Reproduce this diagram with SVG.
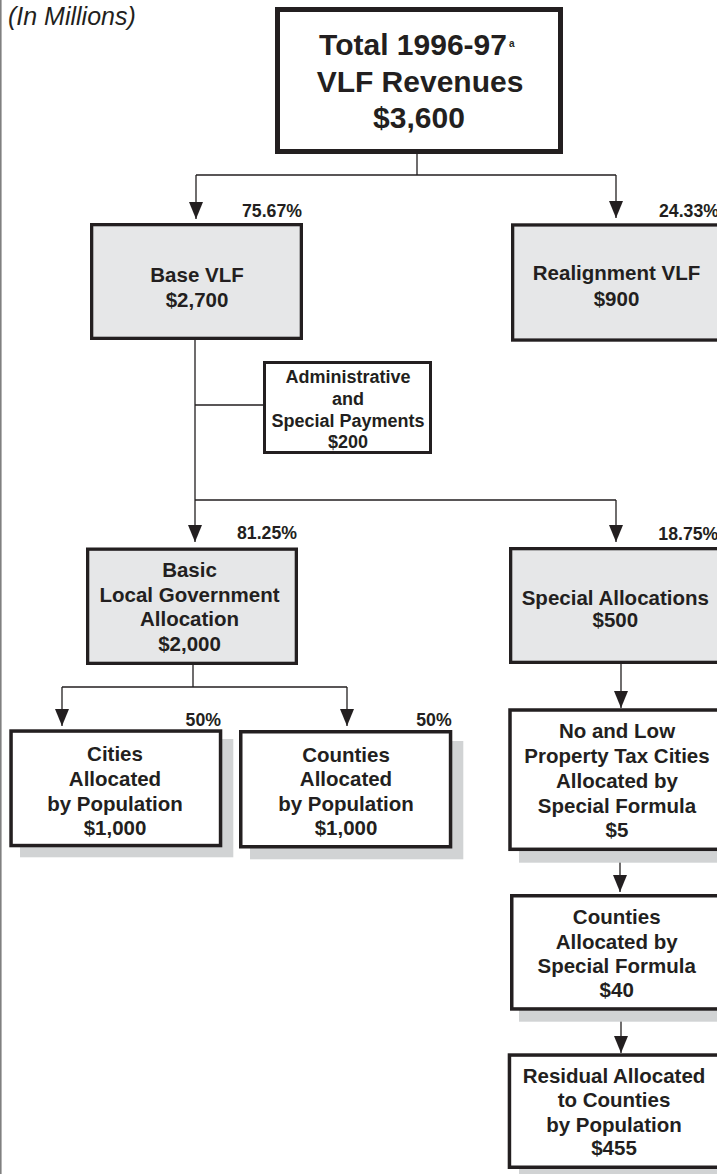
<svg xmlns="http://www.w3.org/2000/svg" width="717" height="1174" viewBox="0 0 717 1174">
<style>
  text { font-family: "Liberation Sans", Arial, Helvetica, sans-serif; fill: #231f20; }
  .b { font-weight: bold; font-size: 20.5px; text-anchor: middle; }
  .t { font-weight: bold; font-size: 30px; text-anchor: middle; }
  .s { font-weight: bold; font-size: 18px; text-anchor: middle; }
  .p { font-weight: bold; font-size: 17.7px; }
  .pe { text-anchor: end; }
  .box { fill: #ffffff; stroke: #231f20; }
  .gray { fill: #e6e7e8; stroke: #231f20; stroke-width: 3.3; }
  .white { fill: #ffffff; stroke: #231f20; stroke-width: 3.5; }
  .shadow { fill: #d1d3d4; stroke: none; }
  .conn { fill: none; stroke: #231f20; stroke-width: 1.3; }
  .arr { fill: none; stroke: #231f20; stroke-width: 1.3; marker-end: url(#ah); }
</style>
<defs>
  <marker id="ah" markerUnits="userSpaceOnUse" markerWidth="17" markerHeight="14" viewBox="0 0 17 14" refX="17" refY="7" orient="auto">
    <path d="M0,0 L17,7 L0,14 Z" fill="#231f20"/>
  </marker>
</defs>
<rect x="0" y="0" width="717" height="1174" fill="#ffffff"/>
<line x1="0.8" y1="0" x2="0.8" y2="1174" stroke="#808080" stroke-width="1.6"/>
<text x="8" y="25" style="font-size:25px;font-style:italic;">(In Millions)</text>

<g id="connectors">
  <path class="conn" d="M417,154 V175 M196,175 H616"/>
  <path class="arr" d="M196,175 V219"/>
  <path class="arr" d="M616,175 V218"/>
  <path class="conn" d="M195,340 V500 M195,405 H263 M195,500 H616"/>
  <path class="arr" d="M195,500 V542"/>
  <path class="arr" d="M616,500 V542"/>
  <path class="conn" d="M193,665 V687 M62,687 H347"/>
  <path class="arr" d="M62,687 V726"/>
  <path class="arr" d="M347,687 V726"/>
  <path class="arr" d="M621,664 V708"/>
  <path class="arr" d="M620,851 V892"/>
  <path class="arr" d="M621,1011 V1053"/>
</g>

<g id="total">
  <rect class="box" x="277.5" y="9.5" width="283" height="142" style="stroke-width:5"/>
  <text class="t" x="413" y="55">Total 1996-97</text>
  <text x="509" y="47" style="font-size:10px;font-weight:bold;">a</text>
  <text class="t" x="420" y="92">VLF Revenues</text>
  <text class="t" x="419" y="128">$3,600</text>
</g>

<g id="base-vlf">
  <rect class="gray" x="91.65" y="224.65" width="209.7" height="113.7"/>
  <text class="p pe" x="302" y="217">75.67%</text>
  <text class="b" x="197" y="282.3">Base VLF</text>
  <text class="b" x="197" y="306.7">$2,700</text>
</g>

<g id="realignment-vlf">
  <rect class="gray" x="512.65" y="224.95" width="206.7" height="115.1"/>
  <text class="p" x="659" y="217">24.33%</text>
  <text class="b" x="616.5" y="280">Realignment VLF</text>
  <text class="b" x="616.5" y="306">$900</text>
</g>

<g id="admin">
  <rect class="box" x="264.5" y="362.5" width="166" height="90" style="stroke-width:3"/>
  <text class="s" x="348" y="383.3">Administrative</text>
  <text class="s" x="348" y="405">and</text>
  <text class="s" x="348" y="426.7">Special Payments</text>
  <text class="s" x="348" y="447.7">$200</text>
</g>

<g id="basic">
  <rect class="gray" x="87.65" y="549.15" width="208.7" height="114.2"/>
  <text class="p pe" x="297" y="539">81.25%</text>
  <text class="b" x="189.5" y="576.7">Basic</text>
  <text class="b" x="189.5" y="602.3">Local Government</text>
  <text class="b" x="189.5" y="626">Allocation</text>
  <text class="b" x="189.5" y="650.7">$2,000</text>
</g>

<g id="special">
  <rect class="gray" x="510.65" y="548.65" width="209.7" height="113.7"/>
  <text class="p" x="658.3" y="539.5">18.75%</text>
  <text class="b" x="615.3" y="605">Special Allocations</text>
  <text class="b" x="615.3" y="627">$500</text>
</g>

<g id="cities">
  <rect class="shadow" x="20" y="739" width="213.3" height="118.3"/>
  <rect class="white" x="11.05" y="731.05" width="209.5" height="114.5"/>
  <text class="p pe" x="221" y="725.5">50%</text>
  <text class="b" x="115" y="761">Cities</text>
  <text class="b" x="115" y="786">Allocated</text>
  <text class="b" x="115" y="811">by Population</text>
  <text class="b" x="115" y="835">$1,000</text>
</g>

<g id="counties">
  <rect class="shadow" x="250" y="741" width="213.3" height="118.3"/>
  <rect class="white" x="240.75" y="731.75" width="209.8" height="115"/>
  <text class="p pe" x="451.7" y="725.5">50%</text>
  <text class="b" x="346" y="761.7">Counties</text>
  <text class="b" x="346" y="786">Allocated</text>
  <text class="b" x="346" y="811">by Population</text>
  <text class="b" x="346" y="835">$1,000</text>
</g>

<g id="no-low">
  <rect class="shadow" x="519" y="719" width="214" height="143.7"/>
  <rect class="white" x="510" y="710" width="210.2" height="139.3"/>
  <text class="b" x="617" y="738.3">No and Low</text>
  <text class="b" x="617" y="763.3">Property Tax Cities</text>
  <text class="b" x="617" y="788.3">Allocated by</text>
  <text class="b" x="617" y="813.3">Special Formula</text>
  <text class="b" x="617" y="836.7">$5</text>
</g>

<g id="counties-special">
  <rect class="shadow" x="519" y="905" width="214" height="116.7"/>
  <rect class="white" x="511.75" y="895.75" width="209.5" height="113.2"/>
  <text class="b" x="616.7" y="924">Counties</text>
  <text class="b" x="616.7" y="949">Allocated by</text>
  <text class="b" x="616.7" y="973.3">Special Formula</text>
  <text class="b" x="616.7" y="996.7">$40</text>
</g>

<g id="residual">
  <rect class="shadow" x="519" y="1064" width="214" height="116"/>
  <rect class="white" x="509.45" y="1055.05" width="210.8" height="112.2"/>
  <text class="b" x="614" y="1083.3">Residual Allocated</text>
  <text class="b" x="614" y="1107.3">to Counties</text>
  <text class="b" x="614" y="1131.7">by Population</text>
  <text class="b" x="614" y="1155">$455</text>
</g>
</svg>
